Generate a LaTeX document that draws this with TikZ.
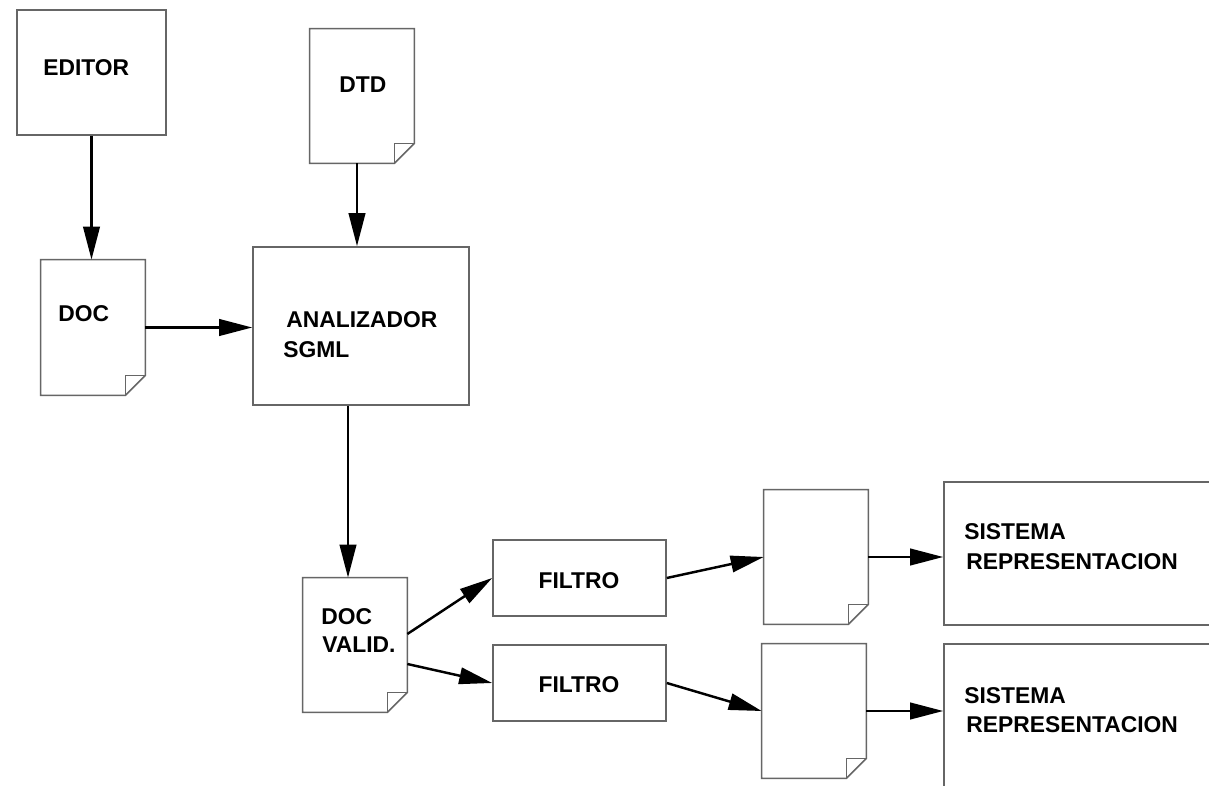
\documentclass[tikz,border=0pt]{standalone}
\usepackage{fontspec}
\setmainfont{Liberation Sans}
\usetikzlibrary{arrows.meta,calc,fit}
\newcommand\docoutline[1]{%
  \draw[boxline] (#1.north west) -- (#1.north east) -- ($(#1.south east)+(0,-20)$)
    -- ($(#1.south east)+(-20,0)$) -- (#1.south west) -- cycle;
  \draw[boxline] ($(#1.south east)+(-20,0)$) -- ($(#1.south east)+(-20,-20)$) -- ($(#1.south east)+(0,-20)$);}
\begin{document}
\begin{tikzpicture}[x=0.02cm,y=-0.02cm,
  boxline/.style={draw=black!60,line width=0.9pt},
  box/.style={boxline,inner sep=0pt},
  docarea/.style={inner sep=0pt},
  lbl/.style={anchor=base west,inner sep=0pt,font=\fontsize{13}{15}\selectfont\bfseries},
  conn/.style={line width=1.4pt,-{Triangle[length=0.66cm,width=0.33cm]}}]
\useasboundingbox (0,0) rectangle (1209,786);
\clip (0,0) rectangle (1209,786);
\fill[white] (0,0) rectangle (1209,786);
% boxes
\node[box,fit={(17,10) (166,135)}] (editor) {};
\node[box,fit={(253,247) (469,405)}] (ana) {};
\node[box,fit={(493,540) (666,616)}] (f1) {};
\node[box,fit={(493,645) (666,721)}] (f2) {};
\node[box,fit={(944,482) (1240,625)}] (sis1) {};
\node[box,fit={(944,644) (1240,810)}] (sis2) {};
% documents
\node[docarea,fit={(310,29) (414,163)}] (dtd) {};
\node[docarea,fit={(41,260) (145,395)}] (doc) {};
\node[docarea,fit={(303,578) (407,712)}] (dv) {};
\node[docarea,fit={(764,490) (868,624)}] (d3) {};
\node[docarea,fit={(762,644) (866,778)}] (d4) {};
\docoutline{dtd}\docoutline{doc}\docoutline{dv}\docoutline{d3}\docoutline{d4}
% labels
\node[lbl] (teditor) at (43,76) {EDITOR};
\node[lbl] (tdtd) at (339,93) {DTD};
\node[lbl] (tdoc) at (58,322) {DOC};
\node[lbl] (tana1) at (286,328) {ANALIZADOR};
\node[lbl] (tana2) at (283,358) {SGML};
\node[lbl] (tdv1) at (321,624) {DOC};
\node[lbl] (tdv2) at (322,652) {VALID.};
\node[lbl,anchor=base] (tf1) at (579,588) {FILTRO};
\node[lbl,anchor=base] (tf2) at (579,692) {FILTRO};
\node[lbl] (ts1a) at (964,539) {SISTEMA};
\node[lbl] (ts1b) at (966,569) {REPRESENTACION};
\node[lbl] (ts2a) at (964,703) {SISTEMA};
\node[lbl] (ts2b) at (966,732) {REPRESENTACION};
% connectors
\draw[conn] (editor.south) -- (editor.south |- doc.north);
\draw[conn] ($(dtd.south)+(-5,0)$) coordinate (dtdo) -- (dtdo |- ana.north);
\draw[conn] (doc.east) -- (doc.east -| ana.west);
\draw[conn] ($(ana.south)+(-13,0)$) coordinate (anao) -- (anao |- dv.north);
\draw[conn] ($(dv.east)+(0,-11)$) -- (f1.west);
\draw[conn] ($(dv.east)+(0,19)$) -- (f2.west);
\draw[conn] (f1.east) -- (d3.west);
\draw[conn] (f2.east) -- (d4.west);
\draw[conn] (d3.east) -- (d3.east -| sis1.west);
\draw[conn] (d4.east) -- (d4.east -| sis2.west);
\end{tikzpicture}
\end{document}
